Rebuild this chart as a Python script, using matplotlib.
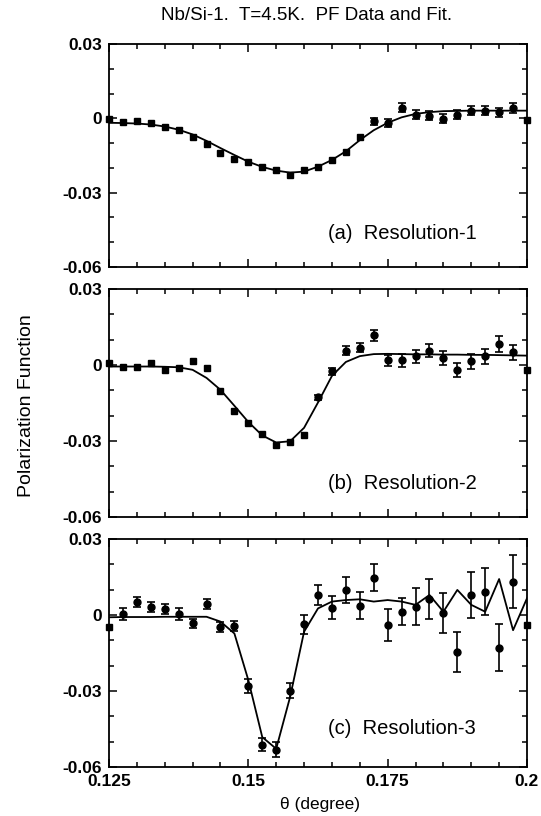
import matplotlib
matplotlib.use("Agg")
import matplotlib.pyplot as plt
import numpy as np

plt.rcParams['font.family'] = ['Liberation Sans', 'DejaVu Sans']

# theta (degree), 31 points, 0.125 .. 0.2
theta = np.linspace(0.125, 0.2, 31)

# (a) Resolution-1
pf1 = [-0.0003, -0.0013, -0.0009, -0.0020, -0.0036, -0.0048, -0.0076, -0.0103, -0.0140, -0.0164,
       -0.0176, -0.0196, -0.0207, -0.0227, -0.0207, -0.0196, -0.0167, -0.0137, -0.0076, -0.0012,
       -0.0019, 0.0042, 0.0015, 0.0011, -0.0001, 0.0015, 0.0031, 0.0031, 0.0024, 0.0042, -0.0007]
err1 = [0] * 19 + [0.0015, 0.0015, 0.0018, 0.0018, 0.0018, 0.0018, 0.0018, 0.0019, 0.0019,
                   0.0019, 0.0020, 0]
fit1 = [-0.0018, -0.0019, -0.0021, -0.0025, -0.0033, -0.0046, -0.0065, -0.0091, -0.0120, -0.0148,
        -0.0175, -0.0196, -0.0211, -0.0219, -0.0215, -0.0195, -0.0168, -0.0133, -0.0088, -0.0048,
        -0.0018, 0.0004, 0.0018, 0.0025, 0.0029, 0.0030, 0.0031, 0.0031, 0.0031, 0.0031, 0.0031]

# (b) Resolution-2
pf2 = [0.0007, -0.0008, -0.0008, 0.0007, -0.0021, -0.0012, 0.0014, -0.0012, -0.0102, -0.0183,
       -0.0229, -0.0271, -0.0315, -0.0302, -0.0278, -0.0128, -0.0025, 0.0056, 0.0069, 0.0117,
       0.0018, 0.0018, 0.0034, 0.0056, 0.0027, -0.0019, 0.0014, 0.0034, 0.0083, 0.0050, -0.0019]
err2 = [0] * 15 + [0.0010, 0.0015, 0.0018, 0.0018, 0.0022, 0.0022, 0.0024, 0.0025, 0.0026,
                   0.0027, 0.0028, 0.0028, 0.0029, 0.0030, 0.0030, 0]
fit2 = [-0.0006, -0.0006, -0.0006, -0.0006, -0.0007, -0.0009, -0.0019, -0.0051, -0.0098, -0.0161,
        -0.0225, -0.0278, -0.0306, -0.0301, -0.0248, -0.0148, -0.0043, 0.0012, 0.0035, 0.0043,
        0.0044, 0.0043, 0.0042, 0.0042, 0.0041, 0.0041, 0.0040, 0.0040, 0.0039, 0.0038, 0.0037]

# (c) Resolution-3
pf3 = [-0.0046, 0.0004, 0.0050, 0.0033, 0.0022, 0.0004, -0.0033, 0.0042, -0.0049, -0.0044,
       -0.0280, -0.0512, -0.0532, -0.0299, -0.0037, 0.0079, 0.0029, 0.0099, 0.0037, 0.0148,
       -0.0040, 0.0013, 0.0033, 0.0062, 0.0007, -0.0145, 0.0079, 0.0092, -0.0129, 0.0132, -0.0040]
err3 = [0, 0.0024, 0.0020, 0.0020, 0.0020, 0.0022, 0.0018, 0.0020, 0.0020, 0.0020,
        0.0026, 0.0026, 0.0029, 0.0029, 0.0037, 0.0040, 0.0046, 0.0050, 0.0053, 0.0053,
        0.0063, 0.0053, 0.0073, 0.0079, 0.0079, 0.0079, 0.0090, 0.0092, 0.0092, 0.0103, 0]
fit3 = [-0.0009, -0.0008, -0.0008, -0.0008, -0.0007, -0.0007, -0.0007, -0.0007, -0.0026, -0.0073,
        -0.0257, -0.0482, -0.0528, -0.0323, -0.0066, 0.0026, 0.0053, 0.0059, 0.0062, 0.0053,
        0.0059, 0.0053, 0.0040, 0.0079, 0.0013, 0.0099, 0.0040, 0.0013, 0.0142, -0.0060, 0.0066]

panels = [(pf1, err1, fit1, "(a)  Resolution-1", 0.152),
          (pf2, err2, fit2, "(b)  Resolution-2", 0.149),
          (pf3, err3, fit3, "(c)  Resolution-3", 0.171)]

W, H = 541, 816
fig = plt.figure(figsize=(W / 100, H / 100), dpi=100)

# axes boxes in pixels (top, bottom)
boxes = [(44, 267), (289, 517), (539, 767)]
left, right = 109, 527

for i, ((pf, err, fit, label, ly), (top, bot)) in enumerate(zip(panels, boxes)):
    ax = fig.add_axes([left / W, 1 - bot / H, (right - left) / W, (bot - top) / H])
    ax.plot(theta, fit, color='black', lw=1.3, zorder=2)
    pf = np.array(pf)
    err = np.array(err)
    has_err = err > 0
    ax.errorbar(theta[has_err], pf[has_err], yerr=err[has_err], fmt='o', color='black',
                ms=5, elinewidth=1.2, capsize=2.8, capthick=1.2, zorder=3)
    ax.plot(theta[~has_err], pf[~has_err], 's', color='black', ms=5, zorder=3,
            clip_on=False)
    ax.set_xlim(0.125, 0.2)
    ax.set_ylim(-0.06, 0.03)
    ax.set_xticks([0.125, 0.15, 0.175, 0.2])
    ax.set_xticks(np.arange(0.125, 0.2001, 0.005), minor=True)
    ax.set_yticks([-0.06, -0.03, 0, 0.03])
    ax.set_yticks(np.arange(-0.06, 0.0301, 0.01), minor=True)
    ax.set_yticklabels(['-0.06', '-0.03', '0', '0.03'], fontsize=12.5, fontweight='bold')
    if i == 2:
        ax.set_xticklabels(['0.125', '0.15', '0.175', '0.2'], fontsize=12.5, fontweight='bold')
    else:
        ax.set_xticklabels([])
    ax.tick_params(which='both', direction='in', top=True, right=True, width=1.1)
    ax.tick_params(which='major', length=6, pad=5)
    ax.tick_params(which='minor', length=3.5)
    for s in ax.spines.values():
        s.set_linewidth(1.3)
    ax.text(0.524, ly, label, transform=ax.transAxes, fontsize=14.5, va='center', ha='left')

fig.text(307 / W, 1 - 15 / H, "Nb/Si-1.  T=4.5K.  PF Data and Fit.", ha='center',
         va='center', fontsize=13.5)
fig.text(27 / W, 1 - 406 / H, "Polarization Function", rotation=90, ha='center',
         va='center', fontsize=14)
fig.text(320 / W, 1 - 804 / H, "θ (degree)", ha='center', va='center', fontsize=12.5)

fig.savefig('out.png', dpi=100)
